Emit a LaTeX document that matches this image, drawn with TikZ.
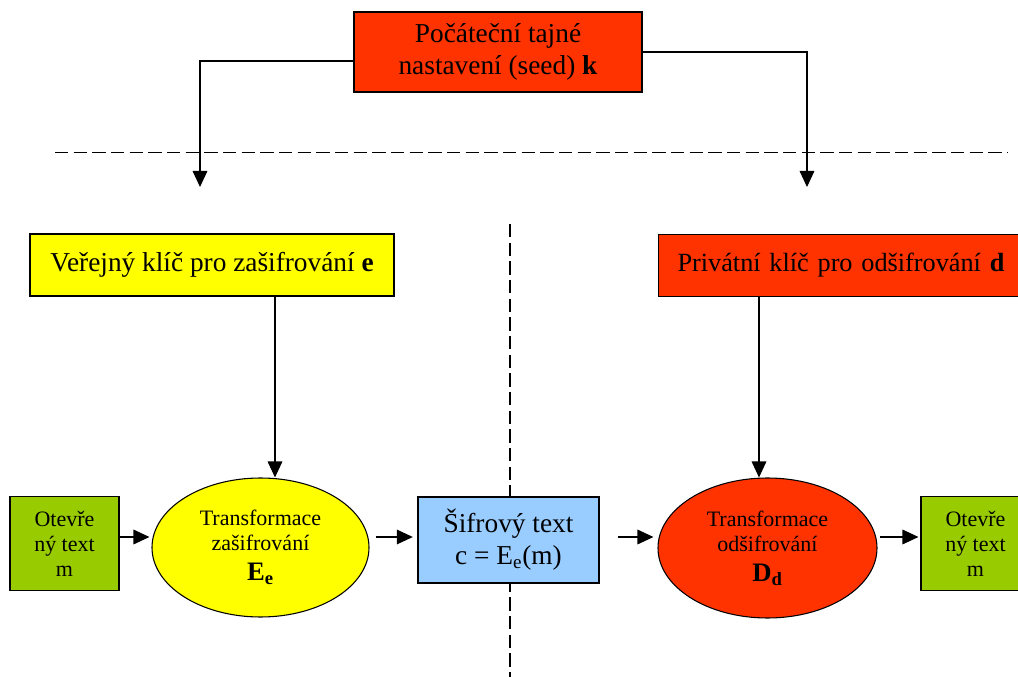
\documentclass[tikz,border=0pt]{standalone}
\usepackage{fontspec}
\setmainfont{Liberation Serif}
\usetikzlibrary{arrows.meta,shapes.geometric}
\definecolor{keyred}{RGB}{255,51,0}
\definecolor{keyyellow}{RGB}{255,255,0}
\definecolor{plaingreen}{RGB}{153,204,0}
\definecolor{cipherblue}{RGB}{153,204,255}

\begin{document}
\begin{tikzpicture}[x=0.75pt,y=-0.75pt,
	box/.style={draw=black, line width=0.8pt, align=center, inner sep=0pt},
	transf/.style={ellipse, draw=black, line width=0.8pt, align=center, inner sep=0pt},
	arr/.style={line width=0.8pt, -{Triangle[length=12pt,width=11pt]}},
	sep/.style={line width=1pt, dash pattern=on 10pt off 4pt},
	big/.style={font=\fontsize{20.5}{24}\selectfont},
	small/.style={font=\fontsize{16.5}{18.75}\selectfont}]

	%Background
	\useasboundingbox (0,0) rectangle (1018,677);
	\clip (0,0) rectangle (1018,677);

	%Separators
	\draw[sep] (55,152.7) -- (1008,152.7);
	\draw[sep] (510,224) -- (510,677);

	%Seed
	\node[box, big, fill=keyred, minimum width=216pt, minimum height=60pt] (seed) at (498,52)
		{Počáteční tajné\\nastavení (seed) \textbf{k}};
	\coordinate (tipl) at (200,187);
	\coordinate (tipr) at (807,187);

	%Keys
	\node[box, big, fill=keyyellow, minimum width=273pt, minimum height=46.5pt] (pub) at (212,265)
		{Veřejný klíč pro zašifrování \textbf{e}};
	\node[box, fill=keyred, anchor=west, align=left, text width=270pt, inner xsep=14.25pt, minimum height=47pt,
		font=\fontsize{19.7}{24}\selectfont] (priv) at (658,265.5)
		{Privátní klíč pro odšifrování \textbf{d}};

	%Flow
	\coordinate (flow) at (0,537);
	\node[box, small, fill=plaingreen, minimum width=81.75pt, minimum height=70pt] (otl) at (64.5,543.5)
		{Otevře\\ný text\\m};
	\node[transf, small, fill=keyyellow, minimum width=162.75pt, minimum height=104.25pt] (enc) at (260.5,547.5)
		{Transformace\\zašifrování\\[3.75pt]{\fontsize{20}{24}\selectfont\textbf{E\textsubscript{e}}}};
	\node[box, big, fill=cipherblue, minimum width=135.75pt, minimum height=64.5pt] (cip) at (508.5,540)
		{Šifrový text\\c = E\textsubscript{e}(m)};
	\node[transf, small, fill=keyred, minimum width=164.25pt, minimum height=105pt] (dec) at (767.5,548)
		{Transformace\\odšifrování\\[3.75pt]{\fontsize{20}{24}\selectfont\textbf{D\textsubscript{d}}}};
	\node[box, small, fill=plaingreen, minimum width=81.75pt, minimum height=70pt] (otr) at (975.5,543.5)
		{Otevře\\ný text\\m};

	%Arrows
	\draw[arr] ([yshift=-6.75pt]seed.west) -| (tipl);
	\draw[arr] (seed.east) -| (tipr);
	\draw[arr] ([xshift=47.25pt]pub.south) -- ([xshift=47.25pt]pub.south |- enc.north);
	\draw[arr] ([xshift=75.75pt]priv.south west) -- ([xshift=75.75pt]priv.south west |- dec.north);
	\draw[arr, shorten >=1.5pt] (otl.east |- flow) -- (enc.west |- flow);
	\draw[arr, shorten <=4.5pt, shorten >=3.5pt] (enc.east |- flow) -- (cip.west |- flow);
	\draw[arr, shorten <=14pt, shorten >=3pt] (cip.east |- flow) -- (dec.west |- flow);
	\draw[arr, shorten <=2pt, shorten >=1.5pt] (dec.east |- flow) -- (otr.west |- flow);

\end{tikzpicture}
\end{document}
